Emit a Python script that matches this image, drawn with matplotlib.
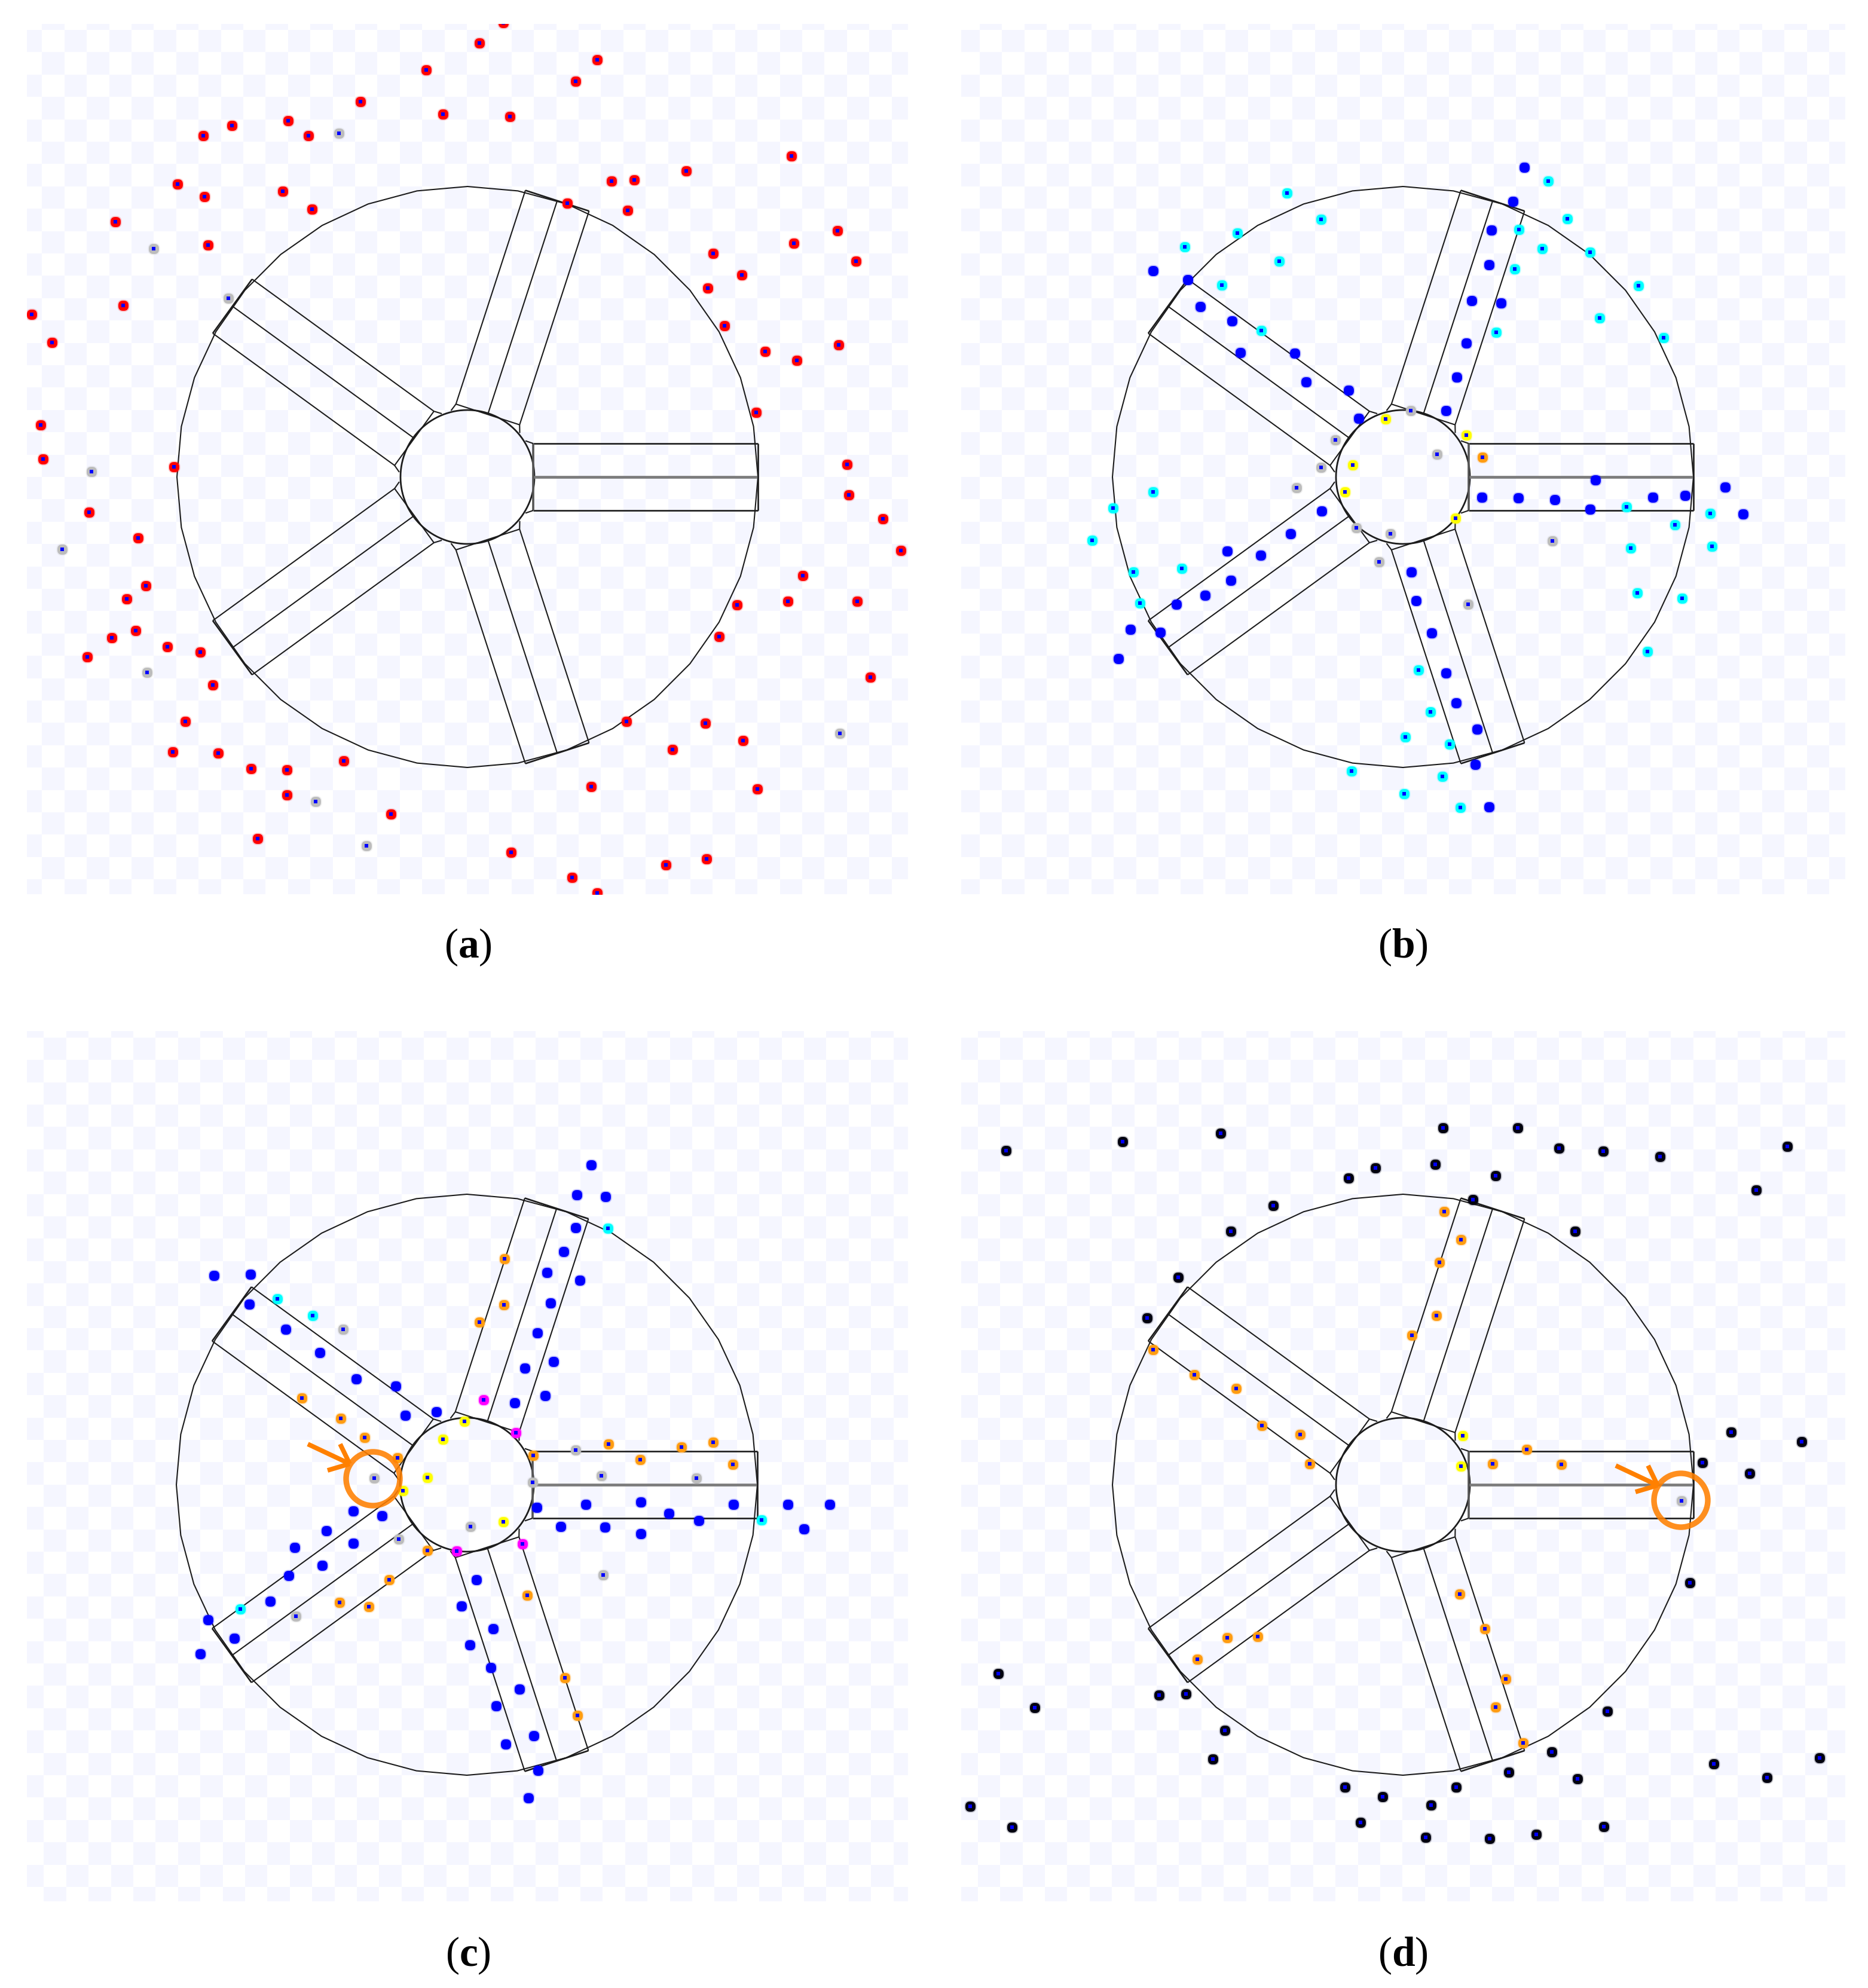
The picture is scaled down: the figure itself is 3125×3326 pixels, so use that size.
import numpy as np
import matplotlib
matplotlib.use("Agg")
import matplotlib.pyplot as plt
from matplotlib.colors import ListedColormap
from matplotlib.patches import Circle
from matplotlib.path import Path

W, H = 3125, 3326
DPI = 100

plt.rcParams["mathtext.fontset"] = "custom"
plt.rcParams["mathtext.rm"] = "Liberation Serif"
plt.rcParams["mathtext.bf"] = "Liberation Serif:bold"

a_scale = 2.122

# ---- panel a
a_red_x = [397, 378, 471, 336, 454, 284, 349, 402, 227, 183, 160, 243, 624, 541, 482, 500, 140, 161, 223, 246,
           447, 495, 91, 164, 562, 626, 660, 675, 585, 558, 97, 25, 41, 571, 603, 628, 661, 596, 32, 34,
           137, 668, 669, 70, 696, 710, 109, 115, 100, 633, 621, 676, 581, 88, 107, 132, 158, 69, 567, 168,
           686, 146, 494, 556, 586, 136, 172, 198, 226, 271, 530, 466, 597, 226, 308, 203, 403, 451, 525, 557, 471]
a_red_y = [18, 34, 47, 55, 64, 80, 90, 92, 95, 99, 107, 107, 123, 135, 143, 142, 145, 155, 151, 165,
           160, 166, 175, 193, 200, 192, 182, 206, 217, 227, 241, 248, 270, 257, 277, 284, 272, 325, 335, 362,
           368, 366, 390, 404, 409, 434, 424, 462, 472, 454, 474, 474, 477, 503, 497, 510, 514, 518, 502, 540,
           534, 569, 569, 570, 584, 593, 594, 606, 607, 600, 591, 620, 622, 627, 642, 661, 672, 692, 682, 677, 704]
a_gray_x = [267, 121, 180, 72, 49, 116, 662, 249, 289]
a_gray_y = [105, 196, 235, 372, 433, 530, 578, 632, 667]

# ---- panel b
b_blue_x = [2550, 2531, 2495, 2491, 2462, 2511, 2453, 2437, 2419, 1929, 1987, 2008, 2061, 2075, 2166, 2185, 2256, 2273,
            2669, 2479, 2540, 2601, 2765, 2819, 2886, 2660, 2916, 2211, 2159, 2053, 2109, 2059, 2016, 1968, 1891, 1941,
            1871, 2361, 2369, 2395, 2419, 2436, 2471, 2468, 2491]
b_blue_y = [280, 337, 385, 443, 503, 507, 574, 631, 687, 453, 468, 513, 537, 590, 591, 639, 653, 700,
            803, 832, 833, 836, 832, 829, 815, 852, 860, 855, 893, 922, 929, 971, 996, 1011, 1053, 1058,
            1102, 957, 1005, 1059, 1126, 1176, 1220, 1279, 1350]
b_cyan_x = [2590, 2153, 2210, 2622, 2541, 2070, 1982, 2580, 2660, 2140, 2534, 2741, 2044, 2676, 2110, 2503, 2783, 1929, 1862,
            2721, 2861, 2802, 2864, 2728, 1827, 1896, 1977, 1907, 2739, 2814, 2756, 2373, 2393, 2351, 2425, 2261, 2413, 2349, 2443]
b_cyan_y = [303, 323, 367, 366, 384, 390, 413, 416, 422, 437, 450, 478, 477, 532, 553, 556, 565, 823, 850,
            848, 859, 878, 914, 917, 904, 957, 951, 1009, 992, 1001, 1090, 1121, 1191, 1233, 1245, 1290, 1299, 1328, 1351]
b_gray_x = [2360, 2234, 2210, 2404, 2169, 2269, 2326, 2597, 2307, 2456]
b_gray_y = [687, 736, 782, 760, 816, 883, 893, 905, 940, 1011]
b_yellow_x = [2318, 2453, 2263, 2250, 2435]
b_yellow_y = [701, 728, 778, 823, 867]
b_orange_x = [2480]
b_orange_y = [765]

# ---- panel c
c_blue_x = [989, 965, 1013, 963, 943, 915, 970, 921, 899, 926, 878, 912, 861, 358, 419, 417, 478, 535, 596, 662, 678, 730,
            898, 980, 1072, 1227, 1318, 1388, 1119, 1169, 938, 1012, 1072, 1345, 591, 639, 546, 493, 591, 539, 483, 452,
            348, 392, 335, 797, 772, 825, 786, 821, 869, 830, 893, 846, 900, 884]
c_blue_y = [1949, 1999, 2002, 2054, 2094, 2129, 2142, 2180, 2230, 2278, 2289, 2335, 2347, 2134, 2132, 2182, 2224, 2263, 2307, 2319, 2368, 2362,
            2522, 2517, 2513, 2517, 2517, 2517, 2532, 2544, 2554, 2555, 2566, 2558, 2528, 2536, 2561, 2589, 2582, 2619, 2636, 2679,
            2710, 2741, 2767, 2643, 2687, 2725, 2752, 2790, 2826, 2854, 2904, 2918, 2962, 3008]
c_cyan_x = [464, 523, 1017, 1274, 402]
c_cyan_y = [2173, 2201, 2055, 2543, 2692]
c_gray_x = [574, 963, 891, 1006, 1165, 626, 787, 667, 1009, 495]
c_gray_y = [2224, 2426, 2480, 2469, 2473, 2473, 2554, 2575, 2635, 2704]
c_orange_x = [844, 843, 802, 505, 570, 610, 665, 1018, 1140, 1193, 892, 1071, 1226, 715, 651, 568, 617, 882, 945, 966]
c_orange_y = [2106, 2183, 2212, 2339, 2373, 2405, 2439, 2416, 2421, 2413, 2435, 2442, 2450, 2594, 2643, 2681, 2688, 2669, 2807, 2870]
c_yellow_x = [777, 741, 715, 674, 842]
c_yellow_y = [2378, 2408, 2472, 2494, 2546]
c_magenta_x = [809, 863, 764, 874]
c_magenta_y = [2342, 2397, 2595, 2583]

# ---- panel d
d_black_x = [1683, 1878, 2042, 2414, 2539, 2608, 2682, 2777, 2990, 2301, 2401, 2256, 2502, 2938, 2464, 2130, 2059, 2635, 1971, 1919,
             2896, 3014, 2848, 2927, 2827, 1670, 1731, 1939, 1984, 2689, 2049, 2029, 2596, 2867, 3044, 2956, 2524, 2639, 2250, 2436,
             2313, 2394, 1623, 1693, 2276, 2683, 2570, 2385, 2492]
d_black_y = [1925, 1910, 1896, 1887, 1887, 1921, 1926, 1935, 1918, 1954, 1948, 1971, 1967, 1991, 2007, 2017, 2060, 2060, 2137, 2205,
             2396, 2412, 2447, 2465, 2648, 2800, 2857, 2836, 2834, 2863, 2895, 2943, 2931, 2951, 2941, 2974, 2965, 2976, 2990, 2990,
             3006, 3020, 3022, 3057, 3049, 3056, 3069, 3074, 3076]
d_orange_x = [2416, 2444, 2408, 2403, 2362, 1929, 1998, 2068, 2111, 2175, 2191, 2554, 2497, 2612, 2442, 2484, 2053, 2104, 2003, 2519, 2502, 2548]
d_orange_y = [2027, 2074, 2112, 2201, 2234, 2258, 2300, 2323, 2385, 2400, 2449, 2425, 2449, 2450, 2667, 2725, 2740, 2738, 2776, 2809, 2856, 2916]
d_yellow_x = [2447, 2444]
d_yellow_y = [2402, 2453]
d_gray_x = [2813]
d_gray_y = [2511]

COL_BLUE = "#0000ff"
COL_RED = "#ff0000"
COL_GRAY = "#bcbcbc"
COL_CYAN = "#00ffff"
COL_YELLOW = "#ffff00"
COL_ORANGE = "#ff9c12"
COL_MAGENTA = "#ff00ff"
COL_BLACK = "#020210"
COL_NOTE = "#ff8000"
COL_CHECK = "#f5f6ff"
COL_LINE = "#1c1c1c"

RIM_R = 486
HUB_R = 112
SPOKE_IN = 110
SPOKE_HALF = 56

# the dots look like slightly squared circles in the source
_t = np.linspace(0, 2 * np.pi, 41)
ROUND_SQ = Path(np.column_stack([np.sign(np.cos(_t)) * np.abs(np.cos(_t)) ** 0.8,
                                 np.sign(np.sin(_t)) * np.abs(np.sin(_t)) ** 0.8]))


def make_panel(left, right, top, bottom, x0, y0):
    ax = fig.add_axes([left / W, 1 - bottom / H, (right - left) / W, (bottom - top) / H])
    ax.axis("off")
    # pale checker background
    step = 37.4
    xe = np.arange(x0, right + step, step)
    ye = np.arange(y0, bottom + step, step)
    cells = (np.add.outer(np.arange(len(ye) - 1), np.arange(len(xe) - 1)) % 2)
    ax.pcolormesh(xe, ye, cells, cmap=ListedColormap(["white", COL_CHECK]), vmin=0, vmax=1,
                  antialiased=False, zorder=0)
    ax.set_xlim(left, right)
    ax.set_ylim(bottom, top)
    return ax


def draw_wheel(ax, cx, cy):
    # rim is a coarse polygon, 10 degrees per side
    t = np.deg2rad(np.arange(0, 361, 10))
    ax.plot(cx + RIM_R * np.cos(t), cy + RIM_R * np.sin(t), color=COL_LINE, lw=1.5, zorder=2)
    t = np.deg2rad(np.arange(0, 361, 3))
    ax.plot(cx + HUB_R * np.cos(t), cy + HUB_R * np.sin(t), color=COL_LINE, lw=2.0, zorder=2)
    for ang in [0, 72, 144, 216, 288]:
        a = np.deg2rad(ang)
        c, s = np.cos(a), np.sin(a)

        def seg(u0, v0, u1, v1, **kw):
            ax.plot([cx + u0 * c + v0 * s, cx + u1 * c + v1 * s],
                    [cy - u0 * s + v0 * c, cy - u1 * s + v1 * c],
                    solid_capstyle="butt", zorder=2, **kw)

        for v in [-SPOKE_HALF, 0, SPOKE_HALF]:
            if ang == 0 and v == 0:
                seg(SPOKE_IN, v, RIM_R, v, color="#7c7c7c", lw=3.4)
            else:
                seg(SPOKE_IN, v, RIM_R, v, color=COL_LINE, lw=1.9 if ang == 0 else 1.5)
        seg(RIM_R, -SPOKE_HALF, RIM_R, SPOKE_HALF, color=COL_LINE, lw=1.9)
        seg(SPOKE_IN, -SPOKE_HALF, SPOKE_IN, SPOKE_HALF, color="#555555" if ang == 0 else COL_LINE,
            lw=2.6 if ang == 0 else 1.5)
        # small links from the channel corners back to the hub
        for v in [-SPOKE_HALF, SPOKE_HALF]:
            seg(SPOKE_IN, v, SPOKE_IN - 13, v * 1.08, color=COL_LINE, lw=1.5)


def dots(ax, xs, ys, col, plain=False):
    ax.scatter(xs, ys, s=215, marker=ROUND_SQ, color=col, alpha=0.22, linewidths=0, zorder=3)
    ax.scatter(xs, ys, s=150, marker=ROUND_SQ, color=col, linewidths=0, zorder=3)
    if not plain:
        ax.scatter(xs, ys, s=14, marker="s", color=COL_BLUE, linewidths=0, zorder=4)


def note(ax, cx, cy):
    # hand drawn style marker: open circle with an arrow into it
    ax.add_patch(Circle((cx, cy), 45, fill=False, edgecolor=COL_NOTE, lw=6.8, alpha=0.88, zorder=5))
    tx, ty = cx - 39, cy - 25
    for dx, dy in [(-70, -33), (-16, -33), (-37, 11)]:
        ax.plot([tx + dx, tx], [ty + dy, ty], color=COL_NOTE, lw=5.6, solid_capstyle="butt", zorder=5)


fig = plt.figure(figsize=(W / DPI, H / DPI), dpi=DPI, facecolor="white")

ax_a = make_panel(45, 1519, 40, 1496, 33, 12.6)
ax_b = make_panel(1608, 3087, 40, 1496, 1601.3, 12.6)
ax_c = make_panel(45, 1519, 1725, 3181, -1.4, 1698.4)
ax_d = make_panel(1608, 3087, 1725, 3181, 1598.3, 1698.3)

centers = [(ax_a, 782, 798), (ax_b, 2347, 798), (ax_c, 781, 2484), (ax_d, 2347, 2484)]
for ax, cx, cy in centers:
    draw_wheel(ax, cx, cy)

dots(ax_a, np.array(a_red_x) * a_scale, np.array(a_red_y) * a_scale, COL_RED)
dots(ax_a, np.array(a_gray_x) * a_scale, np.array(a_gray_y) * a_scale, COL_GRAY)

dots(ax_b, b_blue_x, b_blue_y, COL_BLUE, plain=True)
dots(ax_b, b_cyan_x, b_cyan_y, COL_CYAN)
dots(ax_b, b_gray_x, b_gray_y, COL_GRAY)
dots(ax_b, b_yellow_x, b_yellow_y, COL_YELLOW)
dots(ax_b, b_orange_x, b_orange_y, COL_ORANGE)

dots(ax_c, c_blue_x, c_blue_y, COL_BLUE, plain=True)
dots(ax_c, c_cyan_x, c_cyan_y, COL_CYAN)
dots(ax_c, c_gray_x, c_gray_y, COL_GRAY)
dots(ax_c, c_orange_x, c_orange_y, COL_ORANGE)
dots(ax_c, c_yellow_x, c_yellow_y, COL_YELLOW)
dots(ax_c, c_magenta_x, c_magenta_y, COL_MAGENTA)

dots(ax_d, d_black_x, d_black_y, COL_BLACK)
dots(ax_d, d_orange_x, d_orange_y, COL_ORANGE)
dots(ax_d, d_yellow_x, d_yellow_y, COL_YELLOW)
dots(ax_d, d_gray_x, d_gray_y, COL_GRAY)

note(ax_c, 624, 2474)
note(ax_d, 2812, 2510)

# sub captions
ax_page = fig.add_axes([0, 0, 1, 1], zorder=-1)
ax_page.set_xlim(0, W)
ax_page.set_ylim(H, 0)
ax_page.axis("off")
captions = ["a", "b", "c", "d"]
cap_x = [783, 2347, 783, 2347]
cap_y = [1602, 1602, 3289, 3289]
for lab, x, y in zip(captions, cap_x, cap_y):
    ax_page.text(x, y, "(" + r"$\mathbf{" + lab + "}$" + ")", ha="center", va="baseline",
                 fontsize=50, family="Liberation Serif", color="black")

fig.savefig("out.png", dpi=DPI, facecolor="white")
